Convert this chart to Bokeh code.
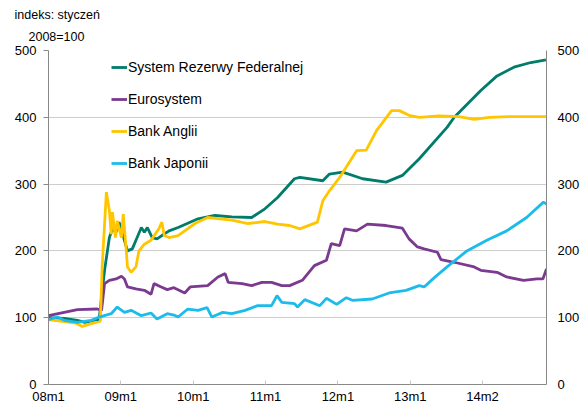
from bokeh.plotting import figure
from bokeh.models import (Range1d, LinearAxis, FixedTicker, Legend, LegendItem, Title)
from bokeh.embed import file_html
from bokeh.resources import INLINE

# x positions in months since 2008m1
x_ticks = [0, 12, 24, 36, 48, 60, 72]
x_tick_labels = ["08m1", "09m1", "10m1", "11m1", "12m1", "13m1", "14m2"]
y_ticks = [0, 100, 200, 300, 400, 500]

series_names = ["System Rezerwy Federalnej", "Eurosystem", "Bank Anglii", "Bank Japonii"]

fed_m = [0, 2.6, 4.8, 6.0, 7.6, 8.4, 9.3, 10.1, 10.6, 11.2, 11.7, 12.2, 13.1, 13.9, 14.7,
         15.4, 15.9, 16.4, 17.2, 18.0, 18.8, 20.0, 21.5, 24.8, 27.6, 30.4, 33.7, 35.9, 38.0,
         40.8, 41.7, 45.5, 46.6, 48.8, 52.1, 56.0, 58.7, 61.5, 66.1, 67.3, 71.7, 74.4, 77.2,
         80.0, 82.5]
fed_v = [100, 99, 96, 93, 96, 98, 171, 220, 233, 228, 243, 228, 200, 203, 220,
         235, 228, 235, 220, 218, 223, 230, 235, 248, 253, 251, 250, 263, 280,
         308, 310, 305, 315, 318, 308, 303, 313, 338, 385, 400, 440, 462, 475,
         482, 486]

eur_m = [0, 2.6, 4.8, 8.1, 8.8, 9.3, 10.1, 11.2, 12.1, 12.6, 13.1, 14.5, 15.9, 17.0, 17.5,
         18.7, 19.7, 20.8, 22.6, 23.5, 26.4, 28.1, 29.3, 29.8, 32.1, 33.7, 35.4, 37.0, 38.7,
         40.0, 42.1, 44.1, 46.1, 46.9, 48.3, 49.1, 51.1, 52.9, 56.0, 58.7, 59.8, 61.2, 62.3,
         64.5, 65.1, 67.3, 70.6, 71.7, 74.4, 76.0, 78.8, 81.0, 82.0, 82.6]
eur_v = [103, 108, 112, 113, 111, 151, 156, 158, 162, 158, 146, 143, 141, 135, 151,
         146, 142, 145, 137, 146, 148, 161, 166, 153, 151, 148, 153, 153, 148,
         148, 156, 178, 186, 211, 208, 233, 230, 240, 238, 234, 218, 206, 203,
         198, 187, 183, 176, 171, 168, 161, 156, 158, 158, 173]

boe_m = [0, 2.0, 4.5, 5.6, 7.8, 8.6, 8.9, 9.6, 10.1, 10.4, 10.6, 11.1, 11.4, 12.1, 12.4,
         12.9, 13.1, 13.7, 14.5, 15.0, 15.9, 17.0, 18.3, 18.8, 19.2, 20.0, 21.5, 24.3, 26.4,
         30.4, 33.1, 35.9, 38.0, 40.0, 41.7, 44.6, 45.5, 46.6, 48.3, 51.1, 52.7, 54.4, 56.9,
         58.2, 59.8, 61.5, 64.8, 68.1, 70.6, 73.1, 76.4, 79.7, 82.5]
boe_v = [97, 95, 92, 87, 93, 95, 176, 288, 260, 225, 258, 220, 245, 220, 255,
         200, 176, 168, 176, 200, 210, 216, 233, 243, 223, 220, 223, 241, 250,
         246, 241, 244, 240, 238, 233, 243, 275, 290, 310, 350, 351, 380, 410,
         410, 403, 400, 402, 401, 397, 400, 401, 401, 401]

boj_m = [0, 1.5, 2.6, 4.8, 7.1, 8.4, 10.4, 11.4, 12.6, 13.7, 15.4, 17.0, 18.0, 19.7, 20.8,
         21.5, 23.1, 24.8, 26.3, 27.1, 28.9, 30.4, 32.6, 34.7, 37.0, 37.9, 38.7, 40.8, 41.3,
         42.5, 45.0, 46.1, 47.8, 49.4, 50.4, 53.7, 56.5, 59.3, 61.5, 62.3, 64.0, 66.1, 69.4,
         72.7, 76.0, 79.3, 82.1, 82.6]
boj_v = [97, 101, 96, 93, 96, 101, 106, 116, 108, 111, 103, 107, 98, 106, 104,
         101, 113, 111, 115, 101, 108, 106, 111, 118, 118, 133, 123, 121, 116,
         127, 118, 129, 120, 130, 126, 128, 137, 141, 148, 146, 160, 176, 200,
         216, 230, 250, 273, 270]

colors = ["#007c6b", "#7b3a8f", "#ffc600", "#1bbcec"]

FONT = "Liberation Sans"

p = figure(width=582, height=408, output_backend="svg", toolbar_location=None,
           x_range=Range1d(0, 82.6), y_range=Range1d(0, 500),
           min_border_left=48, min_border_right=34, min_border_top=50, min_border_bottom=24)
p.outline_line_color = None
p.background_fill_color = "white"
p.border_fill_color = "white"

renderers = []
for xs, ys, c in [(fed_m, fed_v, colors[0]), (eur_m, eur_v, colors[1]),
                  (boe_m, boe_v, colors[2]), (boj_m, boj_v, colors[3])]:
    r = p.line(xs, ys, line_color=c, line_width=2.8)
    renderers.append(r)

# axes
xa = p.xaxis[0]
xa.ticker = FixedTicker(ticks=x_ticks)
xa.major_label_overrides = {t: l for t, l in zip(x_ticks, x_tick_labels)}
xa.axis_line_color = "#888888"
xa.major_tick_line_color = "#c8c8c8"
xa.major_tick_in = 4
xa.major_tick_out = 0
xa.minor_tick_line_color = None
xa.major_label_standoff = 4
xa.major_label_text_font = FONT
xa.major_label_text_font_size = "13px"
xa.major_label_text_color = "black"

ya = p.yaxis[0]
ya.ticker = FixedTicker(ticks=y_ticks)
ya.axis_line_color = "#888888"
ya.major_tick_line_color = "#888888"
ya.major_tick_in = 0
ya.major_tick_out = 5
ya.minor_tick_line_color = None
ya.major_label_standoff = 7
ya.major_label_text_font = FONT
ya.major_label_text_font_size = "13px"
ya.major_label_text_color = "black"

ra = LinearAxis(ticker=FixedTicker(ticks=y_ticks))
ra.axis_line_color = "#888888"
ra.major_tick_line_color = None
ra.major_tick_in = 0
ra.major_tick_out = 0
ra.minor_tick_line_color = None
ra.major_label_standoff = 11
ra.major_label_text_font = FONT
ra.major_label_text_font_size = "13px"
ra.major_label_text_color = "black"
p.add_layout(ra, "right")

p.xgrid.grid_line_color = None
p.ygrid.ticker = FixedTicker(ticks=[100, 200, 300, 400, 500])
p.ygrid.grid_line_color = "#9a9a9a"
p.ygrid.grid_line_dash = "1 1"
p.ygrid.grid_line_width = 1

legend = Legend(items=[LegendItem(label=n, renderers=[r]) for n, r in zip(series_names, renderers)],
                location=(63, 211), orientation="vertical",
                glyph_width=16, glyph_height=20, label_height=20, label_standoff=1,
                spacing=12, padding=0, margin=0,
                border_line_color=None, background_fill_alpha=0,
                label_text_font=FONT, label_text_font_size="14px", label_text_color="black")
p.add_layout(legend, "center")

p.add_layout(Title(text="2008=100", align="left", offset=-20, standoff=13,
                   text_font=FONT, text_font_size="12.5px", text_font_style="normal",
                   text_color="black"), "above")
p.add_layout(Title(text="indeks: styczeń", align="left", offset=-34, standoff=0,
                   text_font=FONT, text_font_size="12.5px", text_font_style="normal",
                   text_color="black"), "above")

open("out.html", "w").write(file_html(p, INLINE))
